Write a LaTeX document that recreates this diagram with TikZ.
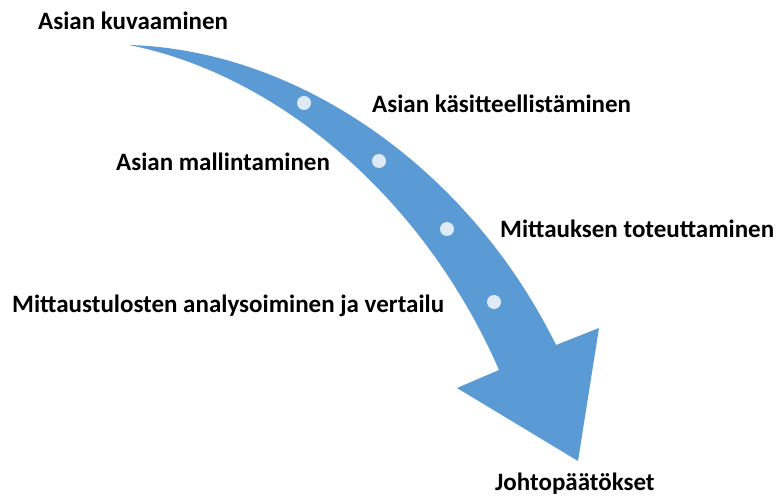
\documentclass[tikz,border=0pt]{standalone}
\usepackage{fontspec}
\setmainfont{Carlito}
\usepackage{xcolor}
\usepackage{tikz}
\usetikzlibrary{positioning, calc}
\definecolor{arrowBlue}{HTML}{5B9BD5}
\definecolor{dotFill}{HTML}{DEEBF7}

\begin{document}
\begin{tikzpicture}[x=1pt, y=-1pt]
        \tikzstyle{stepLabel} = [anchor=base west, inner sep=0pt, font=\fontsize{25}{29}\selectfont\bfseries]
        \tikzstyle{stepDot} = [circle, fill=dotFill, inner sep=0pt, minimum size=14pt]

        \useasboundingbox (0,0) rectangle (782,497);

        % kaareva nuoli
        \fill[arrowBlue] (129,45) .. controls (300,50) and (470,170) .. (556,345)
            -- (599,328) -- (578,461) -- (457,388) -- (499,370)
            .. controls (425,200) and (280,75) .. (129,45) -- cycle;

        \node[stepDot] (dotA) at (304,103) {};
        \node[stepDot] (dotB) at (379,161) {};
        \node[stepDot] (dotC) at (447,229) {};
        \node[stepDot] (dotD) at (494,302) {};

        \node[stepLabel] (kuvaus) at (38,30) {Asian kuvaaminen};
        \node[stepLabel] (kasite) at (372,113) {Asian käsitteellistäminen};
        \node[stepLabel] (malli) at (116,171) {Asian mallintaminen};
        \node[stepLabel] (mittaus) at (500,238) {Mittauksen toteuttaminen};
        \node[stepLabel] (analyysi) at (12,312) {Mittaustulosten analysoiminen ja vertailu};
        \node[stepLabel] (johto) at (495,490) {Johtopäätökset};
\end{tikzpicture}
\end{document}
